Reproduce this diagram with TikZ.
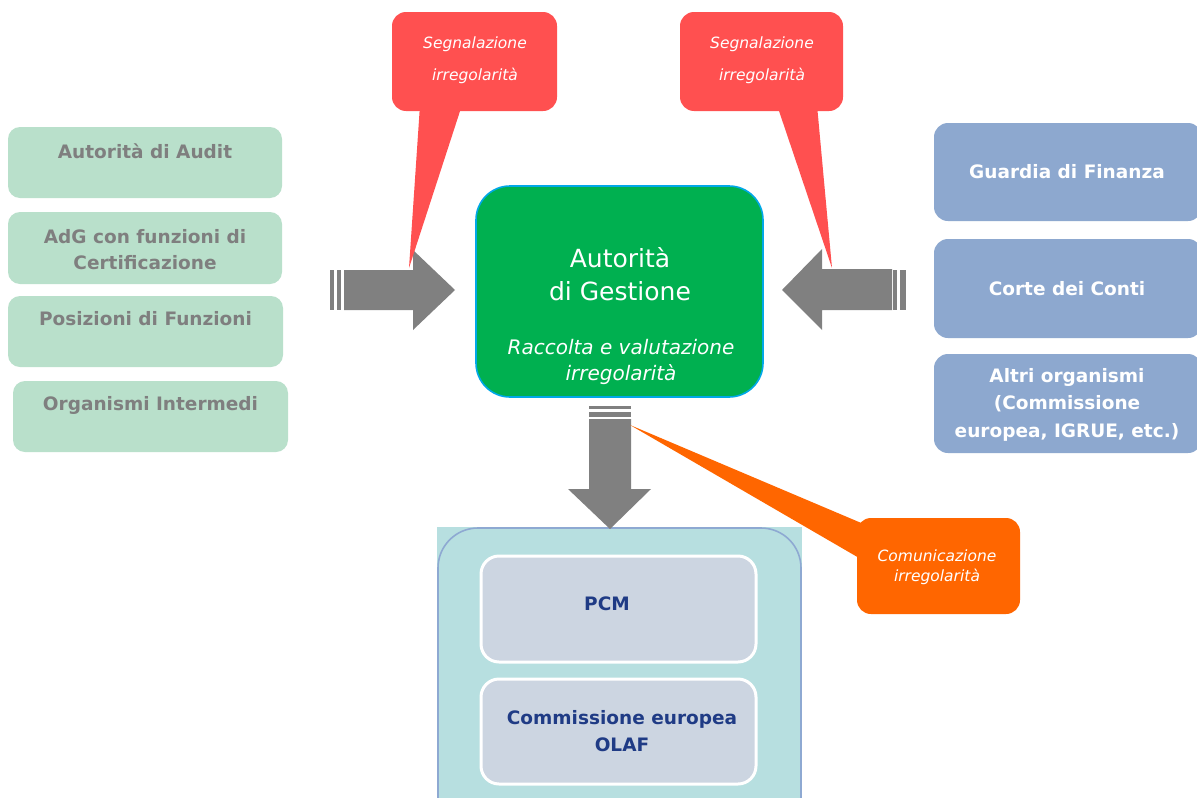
\documentclass[tikz,border=0pt]{standalone}
\usepackage{fontspec}
\setmainfont{DejaVu Sans}
\definecolor{lgreen}{HTML}{B9E0CB}
\definecolor{lgtext}{HTML}{7F7F7F}
\definecolor{rblue}{HTML}{8DA8CF}
\definecolor{cgreen}{HTML}{00B050}
\definecolor{cborder}{HTML}{00A8E8}
\definecolor{cred}{HTML}{FF5050}
\definecolor{corange}{HTML}{FF6600}
\definecolor{agray}{HTML}{808080}
\definecolor{teal}{HTML}{B7DFE0}
\definecolor{tborder}{HTML}{8EA9D2}
\definecolor{ibox}{HTML}{CCD5E1}
\definecolor{navy}{HTML}{1F3B85}
\tikzset{
  lbox/.style={fill=lgreen, draw=none, rounded corners=12pt, inner sep=0pt},
  ltext/.style={text=lgtext, font=\fontsize{18.5}{26}\selectfont\bfseries, align=center, inner sep=0pt},
  rbox/.style={fill=rblue, draw=none, rounded corners=14pt, inner sep=0pt},
  rtext/.style={text=white, font=\fontsize{18.5}{27.5}\selectfont\bfseries, align=center, inner sep=0pt},
  callout/.style={fill=cred, draw=none, rounded corners=14pt, inner sep=0pt},
  ctext/.style={text=white, font=\fontsize{15.5}{32}\selectfont\itshape, align=center, inner sep=0pt},
  otext/.style={text=white, font=\fontsize{15.5}{20}\selectfont\itshape, align=center, inner sep=0pt},
  ibx/.style={fill=ibox, draw=white, line width=3pt, rounded corners=18pt, inner sep=0pt},
  itext/.style={text=navy, font=\fontsize{18.5}{27}\selectfont\bfseries, align=center, inner sep=0pt},
  blockarrow/.style={fill=agray, draw=none},
}
\begin{document}
\begin{tikzpicture}[x=1pt,y=-1pt]
\useasboundingbox (0,0) rectangle (1197,798);
\fill[white] (0,0) rectangle (1197,798);

% left boxes
\node[lbox, minimum width=274pt, minimum height=71pt] (l1) at (145,162.5) {};
\node[ltext] (l1t) at (145,151) {Autorità di Audit};
\node[lbox, minimum width=274pt, minimum height=72pt] (l2) at (145,248) {};
\node[ltext] (l2t) at (145,250) {AdG con funzioni di\\Certificazione};
\node[lbox, minimum width=275pt, minimum height=71pt] (l3) at (145.5,331.5) {};
\node[ltext] (l3t) at (145.5,319) {Posizioni di Funzioni};
\node[lbox, minimum width=275pt, minimum height=71pt] (l4) at (150.5,416.5) {};
\node[ltext] (l4t) at (150.5,405) {Organismi Intermedi};

% right boxes
\node[rbox, minimum width=268pt, minimum height=98pt] (r1) at (1068,172) {};
\node[rtext] (r1t) at (1067,172) {Guardia di Finanza};
\node[rbox, minimum width=268pt, minimum height=99pt] (r2) at (1068,288.5) {};
\node[rtext] (r2t) at (1067,289) {Corte dei Conti};
\node[rbox, minimum width=268pt, minimum height=99pt] (r3) at (1068,403.5) {};
\node[rtext] (r3t) at (1067,404.5) {Altri organismi\\(Commissione\\europea, IGRUE, etc.)};

% center box
\node[fill=cgreen, draw=cborder, line width=1.6pt, rounded corners=34pt,
      minimum width=287pt, minimum height=211pt, inner sep=0pt] (ag) at (619.5,291.5) {};
\node[text=white, font=\fontsize{25}{33}\selectfont, align=center, inner sep=0pt] (agt) at (620,274.5) {Autorità\\di Gestione};
\node[text=white, font=\fontsize{20}{26}\selectfont\itshape, align=center, inner sep=0pt] (agi) at (621,362) {Raccolta e valutazione\\irregolarità};

% bottom container
\path[fill=teal] (437,527) rectangle (802,800);
\draw[tborder, line width=1.6pt, rounded corners=40pt] (438,815) -- (438,528) -- (801,528) -- (801,815);
\node[ibx, minimum width=275pt, minimum height=106pt] (pcm) at (618.5,609) {};
\node[itext] (pcmt) at (607,604) {PCM};
\node[ibx, minimum width=275pt, minimum height=105pt] (ce) at (618.5,731.5) {};
\node[itext] (cet) at (622,731.5) {Commissione europea\\OLAF};

% left arrow
\fill[agray] (330,270) rectangle (333.5,310);
\fill[agray] (337,270) rectangle (341,310);
\path[blockarrow] (344,270) -- (413,270) -- (413,250) -- (455,290) -- (413,330) -- (413,310) -- (344,310) -- cycle;
% right arrow
\fill[agray] (893,270) rectangle (896.5,310);
\fill[agray] (900,270) rectangle (906,310);
\path[blockarrow] (892,269) -- (822,269) -- (822,249) -- (782,290) -- (822,330) -- (822,310) -- (892,310) -- cycle;
% down arrow
\fill[agray] (589,406) rectangle (631,409);
\fill[agray] (589,412) rectangle (631,417);
\path[blockarrow] (589,419) -- (631,419) -- (631,489) -- (651,489) -- (610,529) -- (568,489) -- (589,489) -- cycle;

% red callouts
\coordinate (tip1) at (409,268);
\coordinate (tip2) at (832,268);
\node[callout, minimum width=165pt, minimum height=99pt] (s1) at (474.5,61.5) {};
\fill[cred] (420,105) -- (462,105) -- (tip1) -- cycle;
\node[ctext] (s1t) at (475,60) {Segnalazione\\irregolarità};
\node[callout, minimum width=163pt, minimum height=99pt] (s2) at (761.5,61.5) {};
\fill[cred] (777,105) -- (817,105) -- (tip2) -- cycle;
\node[ctext] (s2t) at (762,60) {Segnalazione\\irregolarità};

% orange callout
\coordinate (tip3) at (630,425);
\node[fill=corange, draw=none, rounded corners=14pt, inner sep=0pt,
      minimum width=163pt, minimum height=96pt] (cm) at (938.5,566) {};
\fill[corange] (tip3) -- (866,525) -- (866,562) -- cycle;
\node[otext] (cmt) at (937,567) {Comunicazione\\irregolarità};
\end{tikzpicture}
\end{document}
